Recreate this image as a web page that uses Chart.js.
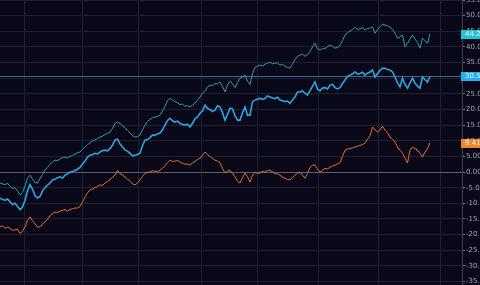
<!DOCTYPE html>
<html><head><meta charset="utf-8">
<script src="https://cdn.jsdelivr.net/npm/chart.js@4"></script>
<style>html,body{margin:0;padding:0;background:#080818;overflow:hidden}#w{width:480px;height:285px;position:relative}</style>
</head><body><div id="w"><canvas id="c"></canvas></div>
<script>
// values sampled along time (one sample per step)
const tealSeries = [
-3.5,-3.8,-4,-3.6,-4.5,-5.2,-5,-6,-7.3,-6.5,
-4.5,-2,-1,-2.2,-3.2,-3.6,-2,-0.8,0.6,1.5,
2.5,3.2,3.8,3.6,4.2,4.6,4.8,4.6,5,5.3,
5.8,6.2,6.4,7.3,8,8.8,9.3,9.9,10.3,10.7,
11.2,11.5,12,12.3,12.8,14,15.5,16,15.5,14.8,
14.2,13.3,12.5,11.6,11.2,11.3,11.8,13.5,15,16.2,
16.8,17.3,17.6,17.8,18.2,19.5,21,22.8,23.6,23,
22.5,22.2,21.5,21.8,21,21.2,20.8,21.4,22,23,
24,25.2,26,27.2,27.8,27.6,28.3,28.2,28.8,27.4,
25.6,27.8,29,28.3,27,28.6,30,30.4,31,29,
28,31.5,33.5,33.8,34.2,33.9,34.5,34.8,35.1,34.6,
34.8,34.9,34.2,34.4,33.8,33.4,33.2,34.5,36,37,
37.4,37.7,37,37.6,38.5,40,41.2,39.4,39,39.4,
39.5,40.1,40.6,40.2,39.6,39.9,40.5,42,43.8,44.6,
45,45.5,46.3,45.6,45.8,46.1,45.4,45.9,46,46.4,
44.4,45.4,46.5,47.3,47,46.8,46.3,45.5,44.4,42.8,
43.2,43.8,40,41.2,42.5,43.8,42.5,41.5,39.6,42.8,
42,41.2,44.25];
const blueSeries = [
-8.3,-8.8,-9,-8.6,-9.5,-10.4,-10,-11,-12,-11.2,
-9,-6,-4,-5.5,-7.5,-8.3,-7.8,-6,-5,-4.2,
-3.5,-2.5,-2.3,-1.8,-1.5,-1.9,-1,-0.6,0,0.2,
0.5,0.9,1.5,2.6,3.5,4.8,5.4,5.6,6,5.8,
6.4,6.9,7,6.8,7.5,8.6,10.2,10.5,9,8,
7,6.7,6,5.2,5.4,5.6,6,8.5,10.2,10.4,
11,11.8,11.8,12.2,12.5,13.5,15,16.5,17.2,16.4,
16,16.3,15.6,15.2,15,15.3,14.4,15.6,17,17.6,
18.8,19.6,21.4,20.3,20,19.4,19.8,21.2,20.8,19,
16.6,18.5,20.4,20.2,18,16.6,16.6,19,20.8,18.2,
18.2,22.5,23,23.3,23.6,23.2,23.5,24.3,24,23.7,
23.5,23.9,23,22.8,22.5,22.7,22,23,24,25.6,
25.6,25.9,25.2,24.6,26,27.4,28.8,26.5,26,26.9,
27,26.6,27.8,28,27,26.6,27,28.3,29.4,30.5,
31,31.4,32,31.3,31.5,31.9,31,31.6,32,32.6,
30.4,31.5,32.5,33.2,33.2,32.8,32.6,32,30.4,28.5,
27.2,30,28,26.8,28.5,30,28.4,27.5,26.8,30.4,
29.5,28.8,30.56];
const orangeSeries = [
-17.5,-17.2,-18,-17.6,-18,-18.6,-18.5,-18.2,-19.6,-19,
-17.5,-15.5,-14.3,-15.6,-16.5,-17.6,-17.5,-16.6,-16,-15,
-14,-13.2,-12.8,-12.9,-12.5,-12.2,-12,-12.4,-12,-11.7,
-11.5,-11.5,-11,-9.6,-8,-6.6,-5.7,-5.4,-5,-4.6,
-4.1,-4.3,-3.5,-3,-2.5,-1.6,-1,0.6,-0.5,-1,
-1.5,-2.2,-3,-3.8,-4.1,-3.5,-2.5,-1.4,-0.4,-0.1,
0,0.4,0.3,0.1,0.6,1.2,2,3,3.8,3.4,
3.5,3.7,3.2,2.8,2.5,2.6,2.2,2.9,3.5,4,
4.5,5.4,6.4,5.6,5,4.3,3.8,3.5,2.9,1.2,
-0.3,0.3,0.6,-0.5,-1.5,-3,-3.5,-1.8,-0.3,-1.5,
-3.2,-1,0,-0.4,-0.3,0.2,0,0.5,0.6,0,
-0.5,-0.6,-1,-1.6,-2,-2.4,-2.5,-1.8,-1,-0.4,
0,-1,-2,-0.4,1.5,2.2,2.2,1,0,0.5,
1.2,1,1.5,2,2.2,2.6,3,5,7,7.4,
7.5,7.7,8,8.3,8.5,8.8,9.2,10.5,11.5,14.4,
13.5,12.8,13.5,14.7,13.4,12.5,11.2,10.5,9.6,8,
7,6,4.5,2.9,7,8,7.5,7,6,4.8,
6.4,7.5,9.41];
const monthTicks = [9.6, 32.8, 55.2, 80.4, 102.8, 127.2, 151.2, 176];
const yTickValues = [-35,-30,-25,-20,-15,-10,-5,0,5,10,15,20,25,30,35,40,45,50,55];
const xMaxIndex = 184.8;

const cTeal = '#2f9fa4', cBlue = '#2aa6e2', cOrange = '#e2702c';
const boxColors = ['#22c4d4', '#27aef0', '#f2872a'];

const toPts = a => a.map((v, i) => ({x: i, y: v}));

const lastPlugin = {
  id: 'lastVals',
  afterDraw(chart) {
    const ctx = chart.ctx, ys = chart.scales.y, area = chart.chartArea;
    const blueLast = blueSeries[blueSeries.length - 1];
    const yl = Math.round(ys.getPixelForValue(blueLast)) + 0.5;
    ctx.save();
    ctx.strokeStyle = 'rgba(95,145,195,0.7)';
    ctx.lineWidth = 1;
    ctx.beginPath(); ctx.moveTo(0, yl); ctx.lineTo(480, yl); ctx.stroke();
    const series = [tealSeries, blueSeries, orangeSeries];
    ctx.font = '7px "DejaVu Sans"';
    ctx.textBaseline = 'middle';
    series.forEach((s, k) => {
      const v = s[s.length - 1];
      const y = ys.getPixelForValue(v);
      ctx.fillStyle = boxColors[k];
      ctx.fillRect(area.right - 1, Math.round(y) - 4, 30, 9);
      ctx.fillStyle = '#eaf6fb';
      ctx.fillText(v.toFixed(2) + '%', area.right + 3, Math.round(y) + 0.5);
    });
    ctx.restore();
  }
};

new Chart(document.getElementById('c'), {
  type: 'line',
  data: {
    datasets: [
      {data: toPts(orangeSeries), borderColor: cOrange, borderWidth: 1, pointRadius: 0, tension: 0},
      {data: toPts(blueSeries), borderColor: cBlue, borderWidth: 1.6, pointRadius: 0, tension: 0},
      {data: toPts(tealSeries), borderColor: cTeal, borderWidth: 1, pointRadius: 0, tension: 0}
    ]
  },
  options: {
    responsive: true, maintainAspectRatio: false, animation: false,
    layout: {padding: 0},
    plugins: {legend: {display: false}, tooltip: {enabled: false}},
    scales: {
      x: {
        type: 'linear', min: 0, max: xMaxIndex,
        afterBuildTicks: s => { s.ticks = monthTicks.map(v => ({value: v})); },
        afterFit: s => { s.height = 0; s.paddingLeft = 0; s.paddingRight = 0; },
        ticks: {display: false},
        grid: {color: '#1d2133', drawTicks: false},
        border: {display: false}
      },
      y: {
        position: 'right', min: -36.1, max: 55,
        afterBuildTicks: s => { s.ticks = yTickValues.map(v => ({value: v})); },
        afterFit: s => { s.width = 18; s.paddingTop = 0; s.paddingBottom = 0; },
        ticks: {
          callback: v => v.toFixed(2) + '%',
          color: '#a3a6b0', font: {family: 'DejaVu Sans', size: 7}, padding: 1
        },
        grid: {
          color: c => (c.tick && c.tick.value === 0) ? '#5c5f6e' : '#1d2133',
          tickLength: 3, tickColor: '#6f727e'
        },
        border: {display: true, color: '#3c3f4e'}
      }
    }
  },
  plugins: [lastPlugin]
});
</script></body></html>
